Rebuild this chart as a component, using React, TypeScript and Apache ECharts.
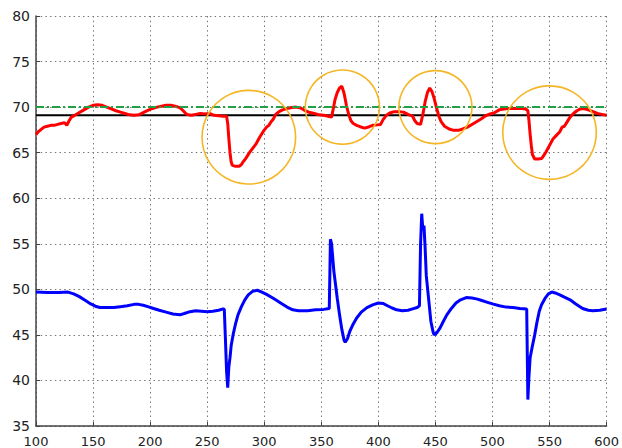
import React, { useEffect, useRef } from "react";
import * as echarts from "echarts";

// Red signal (controlled variable)
const redX = [100,102,104,107,110,113,116,119,122,125,127,129,131,134,138,142,146,150,154,158,162,166,170,174,178,182,186,190,194,198,202,206,210,214,218,222,226,229,232,236,240,244,248,252,256,260,264,267,268,269,270,271,272,275,278,280,281,284,287,290,293,296,299,302,304,306,308,310,313,316,320,324,328,332,336,340,344,348,352,356,359,360,362,364,366,368,370,372,374,376,378,381,384,388,392,395,399,402,404,407,410,414,418,422,426,430,432,434,437,439,441,443,445,447,449,451,453,455,458,462,466,470,474,478,482,486,490,494,498,502,506,510,514,518,522,526,529,531,532,533,534,535,537,540,543,545,547,550,553,556,559,561,563,565,568,571,574,577,580,584,588,592,596,600];
const redY = [67.0,67.3,67.5,67.8,67.9,68.0,68.0,68.1,68.2,68.3,68.0,68.5,68.9,69.1,69.4,69.7,70.0,70.2,70.25,70.2,70.0,69.8,69.6,69.45,69.3,69.15,69.1,69.15,69.4,69.65,69.85,70.0,70.1,70.2,70.2,70.1,69.95,69.6,69.2,69.1,69.2,69.3,69.25,69.3,69.1,69.05,69.0,69.0,68.2,66.5,65.0,64.0,63.6,63.5,63.5,63.7,63.9,64.4,65.0,65.5,66.0,66.7,67.3,67.8,68.0,68.4,68.7,69.2,69.5,69.7,69.85,69.95,70.0,69.9,69.6,69.4,69.3,69.15,69.1,69.0,68.9,69.5,70.8,71.6,72.1,72.3,71.5,70.2,69.2,68.5,68.2,68.0,67.85,67.7,67.85,68.0,68.05,68.1,68.6,69.1,69.35,69.5,69.5,69.45,69.2,69.0,68.5,68.2,68.1,69.2,70.6,71.6,72.1,71.7,70.9,69.9,69.0,68.4,67.9,67.6,67.45,67.45,67.6,67.8,68.1,68.4,68.7,69.05,69.25,69.4,69.7,69.8,69.85,69.85,69.85,69.85,69.8,69.6,68.5,67.0,65.8,64.8,64.3,64.3,64.35,64.7,65.1,65.8,66.5,66.9,67.3,67.8,67.9,68.3,68.9,69.3,69.6,69.8,69.85,69.7,69.5,69.3,69.2,69.1];

// Blue signal (manipulated variable)
const blueX = [100,110,120,128,133,138,143,148,152,156,162,168,174,180,186,190,194,198,203,208,214,220,226,230,235,240,245,250,255,260,264,265,266,267,268,269,270,271,273,275,277,280,283,286,290,294,298,302,306,310,315,320,325,330,338,345,352,357,358,359,360,361,362,364,366,368,370,371,373,375,378,381,385,390,395,400,404,408,412,416,421,426,430,434,436,437,438,439,440,441,442,444,446,448,449,451,454,457,460,464,468,472,477,482,486,490,495,500,506,512,518,524,530,531,532,533,535,537,539,541,543,546,549,552,555,559,563,568,573,579,584,588,594,600];
const blueY = [49.7,49.65,49.65,49.7,49.5,49.2,48.8,48.4,48.15,48.0,48.0,48.0,48.1,48.2,48.35,48.35,48.25,48.1,47.9,47.7,47.5,47.3,47.2,47.35,47.55,47.65,47.6,47.55,47.6,47.7,47.85,47.8,44.5,41.0,39.2,41.5,42.5,43.8,45.2,46.3,47.2,48.1,48.85,49.4,49.8,49.9,49.7,49.45,49.15,48.85,48.45,48.05,47.75,47.65,47.65,47.75,47.8,47.9,55.5,55.0,53.5,52.0,51.0,49.0,47.2,45.6,44.4,44.2,44.6,45.4,46.2,46.85,47.5,48.0,48.3,48.5,48.45,48.2,47.95,47.75,47.65,47.7,47.85,48.0,48.2,55.0,58.3,56.5,57.0,54.5,51.5,49.0,46.5,45.3,45.0,45.2,45.75,46.5,47.2,47.9,48.5,48.85,49.1,49.05,48.95,48.8,48.6,48.4,48.2,48.05,48.0,47.9,47.85,37.9,40.5,42.5,43.8,45.0,46.4,47.6,48.3,49.0,49.5,49.7,49.6,49.4,49.15,48.85,48.4,47.9,47.7,47.65,47.7,47.85];

// Reference levels
const blackLevel = 69.1;
const greenLevel = 70.0;
const xRange = [100, 600];

// Highlight circles: centre x, centre y, radius (x-data units)
const circleX = [286.5, 368.5, 450, 550];
const circleY = [66.7, 70.0, 70.0, 67.2];
const circleR = [41, 32.5, 32, 41];

const xTicks = { min: 100, max: 600, interval: 50 };
const yTicks = { min: 35, max: 80, interval: 5 };

export default function App() {
  const ref = useRef<HTMLDivElement>(null);
  useEffect(() => {
    if (!ref.current) return;
    const chart = echarts.init(ref.current, undefined, { renderer: "svg" });
    const zip = (xs: number[], ys: number[]) => xs.map((x, i) => [x, ys[i]]);
    const grid = { type: [1.5, 3.2] as any, color: "#777", width: 1 };
    chart.setOption({
      animation: false,
      backgroundColor: "#fff",
      grid: { left: 36, right: 15, top: 16, bottom: 21 },
      xAxis: {
        type: "value",
        min: xTicks.min,
        max: xTicks.max,
        interval: xTicks.interval,
        axisLine: { lineStyle: { color: "#444", width: 1.5 } },
        axisTick: { inside: true, length: 4, lineStyle: { color: "#444" } },
        axisLabel: { color: "#222", fontSize: 13, fontFamily: "DejaVu Sans", margin: 9 },
        splitLine: { show: true, lineStyle: grid },
      },
      yAxis: {
        type: "value",
        min: yTicks.min,
        max: yTicks.max,
        interval: yTicks.interval,
        axisLine: { show: true, lineStyle: { color: "#444", width: 1.5 } },
        axisTick: { show: true, inside: true, length: 4, lineStyle: { color: "#444" } },
        axisLabel: { color: "#222", fontSize: 14, fontFamily: "DejaVu Sans", margin: 6 },
        splitLine: { show: true, lineStyle: grid },
      },
      series: [
        {
          type: "line",
          data: [[xRange[0], blackLevel], [xRange[1], blackLevel]],
          showSymbol: false,
          lineStyle: { color: "#000", width: 2 },
          z: 2,
        },
        {
          type: "line",
          data: zip(redX, redY),
          showSymbol: false,
          lineStyle: { color: "#ff0000", width: 3 },
          z: 3,
        },
        {
          type: "line",
          data: [[xRange[0], greenLevel], [xRange[1], greenLevel]],
          showSymbol: false,
          lineStyle: { color: "#22a046", width: 2, type: [8, 3, 2, 3] },
          z: 4,
        },
        {
          type: "line",
          data: zip(blueX, blueY),
          showSymbol: false,
          lineStyle: { color: "#0000ff", width: 3 },
          z: 3,
        },
        {
          type: "custom",
          data: circleX.map((x, i) => [x, circleY[i], circleR[i]]),
          renderItem: (params: any, api: any) => {
            const c = api.coord([api.value(0), api.value(1)]);
            const r = api.size([api.value(2), 0])[0];
            return {
              type: "circle",
              shape: { cx: c[0], cy: c[1], r },
              style: { fill: "none", stroke: "#f5b625", lineWidth: 1.6 },
            };
          },
          z: 5,
        },
      ],
    });
    return () => chart.dispose();
  }, []);
  return (
    <div
      ref={ref}
      style={{ position: "absolute", left: 0, top: 0, width: 622, height: 448 }}
    />
  );
}
